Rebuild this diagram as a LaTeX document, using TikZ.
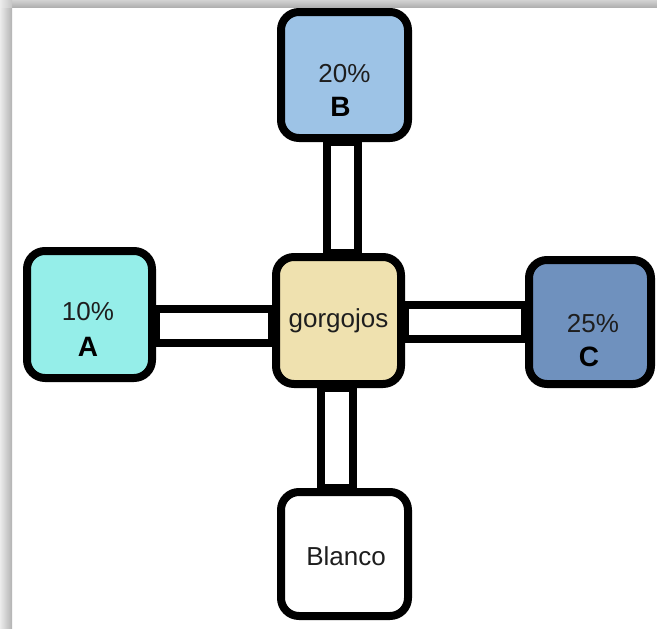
\documentclass[tikz,border=0pt]{standalone}
\usepackage{fontspec}
\setmainfont{Liberation Sans}
\usetikzlibrary{calc,backgrounds}
\pgfdeclarelayer{bars}
\pgfsetlayers{background,bars,main}
\definecolor{boxA}{HTML}{95EEE9}
\definecolor{boxB}{HTML}{9DC3E6}
\definecolor{boxC}{HTML}{6F91BE}
\definecolor{boxG}{HTML}{EFE1AF}
\definecolor{txt}{HTML}{1E1E1E}
\tikzset{
  cbox/.style={draw=black, line width=8pt, rounded corners=18pt, inner sep=0pt},
  barbox/.style={draw=black, fill=white, line width=8pt},
  pct/.style={anchor=base, inner sep=0pt, text=txt, font=\fontsize{26}{30}\selectfont},
  lett/.style={anchor=base, inner sep=0pt, text=black, font=\fontsize{28}{32}\selectfont\bfseries},
}
\begin{document}
\begin{tikzpicture}[x=1pt, y=-1pt]
\useasboundingbox (0,0) rectangle (657,629);
\begin{pgfonlayer}{background}
\fill[white] (0,0) rectangle (657,629);
\shade[left color=gray!15, right color=gray!60] (0,0) rectangle (12,629);
\shade[top color=gray!35, bottom color=gray!62] (12,0) rectangle (657,7);
\shade[left color=gray!15, right color=gray!45] (0,0) rectangle (12,7);
\end{pgfonlayer}

\node[cbox, fill=boxA, minimum width=125pt, minimum height=127pt] (A) at (89.5,314.5) {};
\node[cbox, fill=boxB, minimum width=127pt, minimum height=126pt] (B) at (344.5,75) {};
\node[cbox, fill=boxG, minimum width=125pt, minimum height=127pt] (G) at (338.5,320.5) {};
\node[cbox, fill=boxC, minimum width=122pt, minimum height=124pt] (C) at (590,322) {};
\node[cbox, fill=white, minimum width=127pt, minimum height=124pt] (W) at (344.5,554) {};

\begin{pgfonlayer}{bars}
\draw[barbox] ($(A.east)+(0,-5.5)$) rectangle ($(G.west)+(0,22.5)$);
\draw[barbox] ($(G.east)+(0,-16)$) rectangle ($(C.west)+(0,16.5)$);
\draw[barbox] ($(B.south)+(-17.5,0)$) rectangle ($(G.north)+(19.5,0)$);
\draw[barbox] ($(G.south)+(-17.5,0)$) rectangle ($(W.north)+(8.5,0)$);
\end{pgfonlayer}

\node[pct] (Ap) at ($(A.center)+(-1.5,5.8)$) {10\%};
\node[lett] (Al) at ($(A.center)+(-1.5,41.8)$) {A};
\node[pct] (Bp) at ($(B.center)+(0,7.3)$) {20\%};
\node[lett] (Bl) at ($(B.center)+(-4,41.3)$) {B};
\node[pct] (Cp) at ($(C.center)+(3,10.3)$) {25\%};
\node[lett] (Cl) at ($(C.center)+(-1,44.3)$) {C};
\node[pct] (Gt) at ($(G.center)+(0,6.5)$) {gorgojos};
\node[pct] (Wt) at ($(W.center)+(1.5,11)$) {Blanco};
\end{tikzpicture}
\end{document}
